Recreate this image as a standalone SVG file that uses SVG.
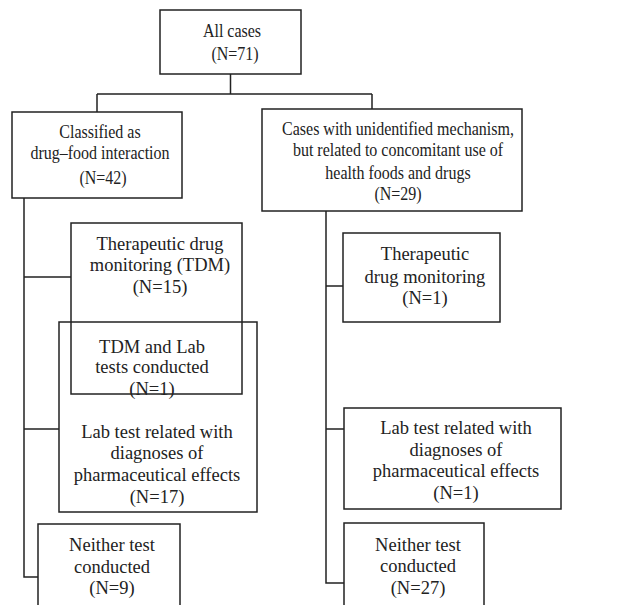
<svg xmlns="http://www.w3.org/2000/svg" width="619" height="605" viewBox="0 0 619 605">
<style>
.box{fill:none;stroke:#222;stroke-width:1.5}
.ln{fill:none;stroke:#222;stroke-width:1.5}
text{font-family:"Liberation Serif","Times New Roman",serif;font-size:18px;fill:#222;text-anchor:middle}
.lg{font-size:18.5px}
</style>
<rect width="619" height="605" fill="#fff"/>
<g id="connectors">
<path class="ln" d="M230.5,74 V94 M97,94 H372 M97,94 V112 M372,94 V109"/>
<path class="ln" d="M24,198 V577 H38 M24,277 H71 M24,429 H59"/>
<path class="ln" d="M326,211 V583 H344 M326,286 H343 M326,429 H344"/>
</g>
<g id="all">
<rect class="box" x="160" y="10" width="141" height="64"/>
<g transform="translate(232,0) scale(0.89,1)"><text x="0" y="37">All cases</text></g>
<g transform="translate(235,0) scale(0.89,1)"><text x="0" y="60">(N=71)</text></g>
</g>
<g id="classified">
<rect class="box" x="12" y="112" width="170" height="86"/>
<g transform="translate(100,0) scale(0.89,1)">
<text x="0" y="138">Classified as</text>
<text x="0" y="159">drug–food interaction</text>
<text x="3.4" y="184">(N=42)</text>
</g>
</g>
<g id="unidentified">
<rect class="box" x="262" y="109" width="260" height="102"/>
<g transform="translate(398,0) scale(0.89,1)">
<text x="0" y="135">Cases with unidentified mechanism,</text>
<text x="0" y="156">but related to concomitant use of</text>
<text x="0" y="179">health foods and drugs</text>
<text x="0" y="200">(N=29)</text>
</g>
</g>
<g id="tdm-left">
<rect class="box" x="71" y="223" width="171" height="171"/>
<text class="lg" x="160" y="250">Therapeutic drug</text>
<text class="lg" x="160" y="271">monitoring (TDM)</text>
<text class="lg" x="160" y="293">(N=15)</text>
</g>
<g id="lab-left">
<rect class="box" x="59" y="322" width="198" height="190"/>
<text class="lg" x="152" y="353">TDM and Lab</text>
<text class="lg" x="152" y="373">tests conducted</text>
<text class="lg" x="152" y="395">(N=1)</text>
<text class="lg" x="157" y="438">Lab test related with</text>
<text class="lg" x="157" y="459">diagnoses of</text>
<text class="lg" x="157" y="481">pharmaceutical effects</text>
<text class="lg" x="157" y="503">(N=17)</text>
</g>
<g id="neither-left">
<rect class="box" x="38" y="524" width="142" height="100"/>
<text class="lg" x="112" y="551">Neither test</text>
<text class="lg" x="112" y="573">conducted</text>
<text class="lg" x="112" y="594">(N=9)</text>
</g>
<g id="tdm-right">
<rect class="box" x="343" y="233" width="157" height="89"/>
<text class="lg" x="425" y="260">Therapeutic</text>
<text class="lg" x="425" y="283">drug monitoring</text>
<text class="lg" x="425" y="304">(N=1)</text>
</g>
<g id="lab-right">
<rect class="box" x="344" y="408" width="217" height="101"/>
<text class="lg" x="456" y="434">Lab test related with</text>
<text class="lg" x="456" y="456">diagnoses of</text>
<text class="lg" x="456" y="477">pharmaceutical effects</text>
<text class="lg" x="456" y="499">(N=1)</text>
</g>
<g id="neither-right">
<rect class="box" x="344" y="523" width="140" height="100"/>
<text class="lg" x="418" y="551">Neither test</text>
<text class="lg" x="418" y="572">conducted</text>
<text class="lg" x="418" y="594">(N=27)</text>
</g>
</svg>
